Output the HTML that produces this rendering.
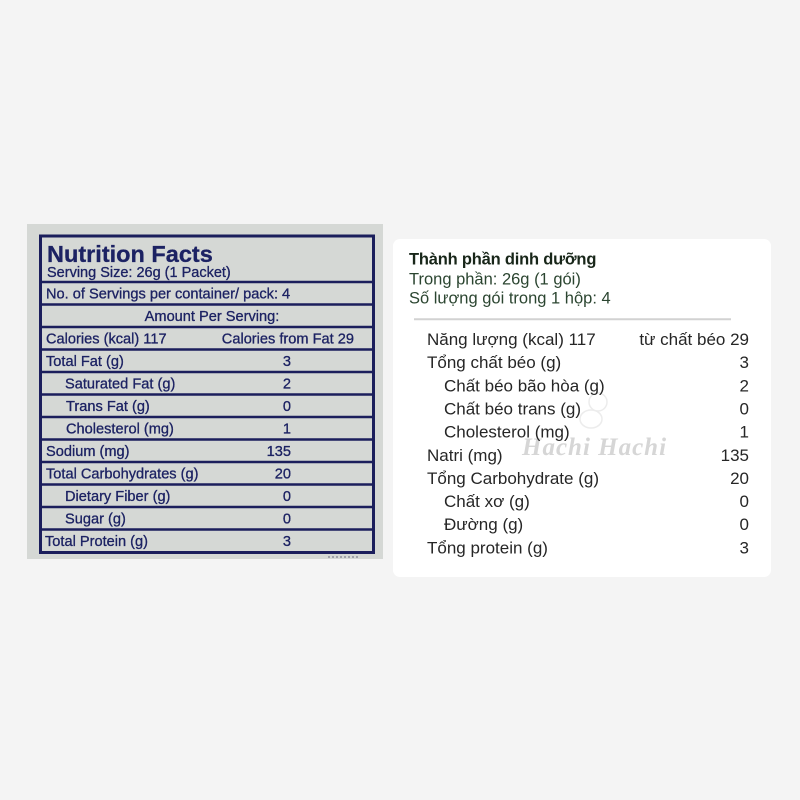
<!DOCTYPE html>
<html>
<head>
<meta charset="utf-8">
<style>
  html,body{margin:0;padding:0;background:#f4f4f4;}
  svg{display:block;}
</style>
</head>
<body>
<svg width="800" height="800" viewBox="0 0 800 800" xmlns="http://www.w3.org/2000/svg">
  <rect x="0" y="0" width="800" height="800" fill="#f4f4f4"/>

  <!-- LEFT: Nutrition Facts label -->
  <rect x="27" y="224" width="356" height="335" fill="#d5d8d5"/>
  <g stroke="#1b1e5c" fill="none">
    <rect x="40.5" y="236" width="333" height="316.5" stroke-width="3"/>
    <g stroke-width="2.5">
      <line x1="40" y1="282" x2="374" y2="282"/>
      <line x1="40" y1="304.5" x2="374" y2="304.5"/>
      <line x1="40" y1="327" x2="374" y2="327"/>
      <line x1="40" y1="349.5" x2="374" y2="349.5"/>
      <line x1="40" y1="372" x2="374" y2="372"/>
      <line x1="40" y1="394.5" x2="374" y2="394.5"/>
      <line x1="40" y1="417" x2="374" y2="417"/>
      <line x1="40" y1="439.5" x2="374" y2="439.5"/>
      <line x1="40" y1="462" x2="374" y2="462"/>
      <line x1="40" y1="484.5" x2="374" y2="484.5"/>
      <line x1="40" y1="507" x2="374" y2="507"/>
      <line x1="40" y1="529.5" x2="374" y2="529.5"/>
    </g>
  </g>
  <g font-family="'Liberation Sans', Arial, sans-serif" fill="#1c2263" stroke="#1c2263" stroke-width="0.3">
    <text x="47" y="262" font-size="23.5" font-weight="bold">Nutrition Facts</text>
    <text x="47" y="277" font-size="14.5">Serving Size: 26g (1 Packet)</text>
    <text x="46" y="298.5" font-size="14.6">No. of Servings per container/ pack: 4</text>
    <text x="212" y="321" font-size="14.6" text-anchor="middle">Amount Per Serving:</text>
    <text x="46" y="343.5" font-size="14.6">Calories (kcal) 117</text>
    <text x="354" y="343.5" font-size="14.6" text-anchor="end">Calories from Fat 29</text>

    <text x="46" y="366" font-size="14.6">Total Fat (g)</text>
    <text x="65" y="388.5" font-size="14.6">Saturated Fat (g)</text>
    <text x="66" y="411" font-size="14.6">Trans Fat (g)</text>
    <text x="66" y="433.5" font-size="14.6">Cholesterol (mg)</text>
    <text x="46" y="456" font-size="14.6">Sodium (mg)</text>
    <text x="46" y="478.5" font-size="14.6">Total Carbohydrates (g)</text>
    <text x="65" y="501" font-size="14.6">Dietary Fiber (g)</text>
    <text x="65" y="523.5" font-size="14.6">Sugar (g)</text>
    <text x="45" y="546" font-size="14.6">Total Protein (g)</text>

    <g text-anchor="end" font-size="14.6">
      <text x="291" y="366">3</text>
      <text x="291" y="388.5">2</text>
      <text x="291" y="411">0</text>
      <text x="291" y="433.5">1</text>
      <text x="291" y="456">135</text>
      <text x="291" y="478.5">20</text>
      <text x="291" y="501">0</text>
      <text x="291" y="523.5">0</text>
      <text x="291" y="546">3</text>
    </g>
  </g>
  <g stroke="#6a6d80" stroke-width="1">
    <line x1="328" y1="557" x2="358" y2="557" stroke-dasharray="2 2"/>
  </g>

  <!-- RIGHT: Vietnamese card -->
  <rect x="393" y="239" width="378" height="338" rx="7" ry="7" fill="#ffffff"/>

  <!-- watermark -->
  <g fill="none" stroke="#ececec" stroke-width="1.5">
    <circle cx="598" cy="402" r="9"/>
    <ellipse cx="591" cy="419" rx="11" ry="9"/>
  </g>
  <text x="522" y="455" font-family="'Liberation Serif', serif" font-size="25" font-style="italic" font-weight="bold" fill="#d6d6d6" letter-spacing="1">Hachi Hachi</text>

  <g font-family="'Liberation Sans', Arial, sans-serif">
    <text x="409" y="264.3" font-size="16.5" font-weight="bold" fill="#182619" letter-spacing="-0.2">Thành phần dinh dưỡng</text>
    <text x="409" y="284.3" font-size="16.5" fill="#2b4530">Trong phần: 26g (1 gói)</text>
    <text x="409" y="303.3" font-size="16.5" fill="#2b4530">Số lượng gói trong 1 hộp: 4</text>
  </g>
  <line x1="414" y1="319.3" x2="731" y2="319.3" stroke="#d2d2d2" stroke-width="2"/>

  <g font-family="'Liberation Sans', Arial, sans-serif" font-size="17" fill="#262626">
    <text x="427" y="345">Năng lượng (kcal) 117</text>
    <text x="427" y="368.2">Tổng chất béo (g)</text>
    <text x="444" y="391.3">Chất béo bão hòa (g)</text>
    <text x="444" y="414.5">Chất béo trans (g)</text>
    <text x="444" y="437.6">Cholesterol (mg)</text>
    <text x="427" y="460.8">Natri (mg)</text>
    <text x="427" y="483.9">Tổng Carbohydrate (g)</text>
    <text x="444" y="507">Chất xơ (g)</text>
    <text x="444" y="530.2">Đường (g)</text>
    <text x="427" y="553.3">Tổng protein (g)</text>

    <g text-anchor="end">
      <text x="749" y="345">từ chất béo 29</text>
      <text x="749" y="368.2">3</text>
      <text x="749" y="391.3">2</text>
      <text x="749" y="414.5">0</text>
      <text x="749" y="437.6">1</text>
      <text x="749" y="460.8">135</text>
      <text x="749" y="483.9">20</text>
      <text x="749" y="507">0</text>
      <text x="749" y="530.2">0</text>
      <text x="749" y="553.3">3</text>
    </g>
  </g>
</svg>
</body>
</html>
